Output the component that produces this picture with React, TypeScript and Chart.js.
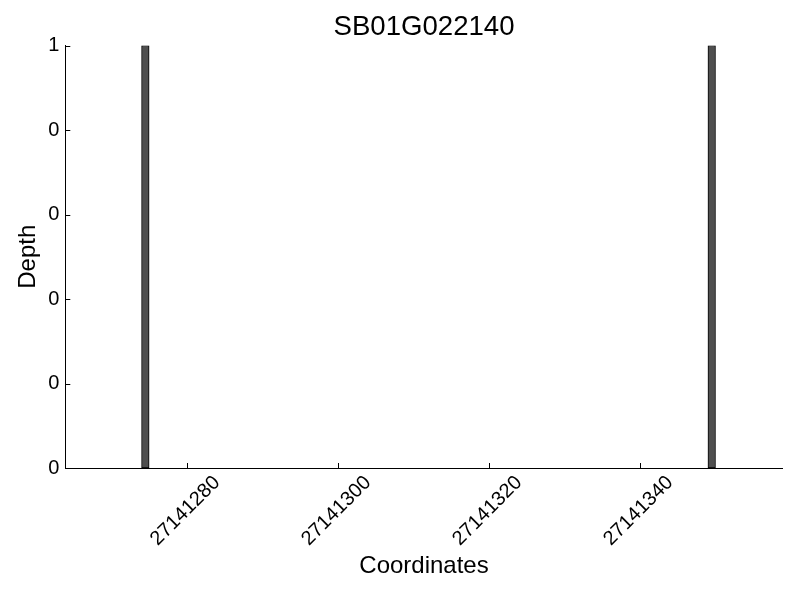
import React, { useEffect, useRef } from 'react';
import { Chart, registerables } from 'chart.js';

Chart.register(...registerables);

const chartTitle = 'SB01G022140';
const xAxisTitle = 'Coordinates';
const yAxisTitle = 'Depth';

// bar centres (each bar covers one coordinate unit)
const coordinates = [27141274.5, 27141349.5];
const depths = [1, 1];

const xMin = 27141263.9;
const xMax = 27141358.9;
const xTickValues = [27141280, 27141300, 27141320, 27141340];
const xTickLabels = ['27141280', '27141300', '27141320', '27141340'];

const yMin = 0;
const yMax = 1;
const yTickValues = [0, 0.2, 0.4, 0.6, 0.8, 1];
const yTickLabels = ['0', '0', '0', '0', '0', '1'];

const FONT = '"Liberation Sans", Arial, Helvetica, sans-serif';

export default function App() {
  const ref = useRef<HTMLCanvasElement>(null);

  useEffect(() => {
    document.body.style.margin = '0';
    if (!ref.current) return;

    const inwardTicks = {
      id: 'inwardTicks',
      afterDraw(chart: any) {
        const { ctx, chartArea } = chart;
        const xs = chart.scales.x;
        const ys = chart.scales.y;
        ctx.save();
        ctx.strokeStyle = '#000';
        ctx.lineWidth = 1;
        ctx.beginPath();
        xs.ticks.forEach((t: any) => {
          const px = Math.round(xs.getPixelForValue(t.value)) + 0.5;
          ctx.moveTo(px, chartArea.bottom);
          ctx.lineTo(px, chartArea.bottom - 5);
        });
        ys.ticks.forEach((t: any) => {
          const py = Math.round(ys.getPixelForValue(t.value)) + 0.5;
          ctx.moveTo(chartArea.left, py);
          ctx.lineTo(chartArea.left + 5, py);
        });
        ctx.stroke();
        ctx.restore();
      },
    };

    const chart = new Chart(ref.current, {
      type: 'bar',
      data: {
        datasets: [
          {
            data: coordinates.map((c, i) => ({ x: c, y: depths[i] })),
            backgroundColor: '#4f4f4f',
            borderColor: '#000',
            borderWidth: 1,
            borderSkipped: false,
            barThickness: 8,
            grouped: false,
          } as any,
        ],
      },
      options: {
        responsive: false,
        animation: false,
        layout: { padding: { left: 0, right: 17.3, top: 0, bottom: 0 } },
        plugins: {
          legend: { display: false },
          tooltip: { enabled: false },
          title: {
            display: true,
            text: chartTitle,
            fullSize: false,
            color: '#000',
            font: { family: FONT, size: 27.6, weight: 'normal' },
            padding: { top: 10.5, bottom: 1.9 },
          } as any,
        },
        scales: {
          x: {
            type: 'linear',
            min: xMin,
            max: xMax,
            offset: false,
            afterBuildTicks: (s: any) => {
              s.ticks = xTickValues.map((v) => ({ value: v }));
            },
            afterFit: (s: any) => {
              s.height = 132;
              s.paddingLeft = 0;
              s.paddingRight = 0;
            },
            grid: { display: false, drawTicks: false },
            border: { display: true, color: '#000', width: 1 },
            ticks: {
              autoSkip: false,
              minRotation: 45,
              maxRotation: 45,
              labelOffset: 30,
              padding: 3,
              color: '#000',
              font: { family: FONT, size: 20 },
              callback: (_v: any, i: number) => xTickLabels[i],
            },
            title: {
              display: true,
              text: xAxisTitle,
              color: '#000',
              font: { family: FONT, size: 24 },
              padding: { top: 0, bottom: 19 },
            },
          },
          y: {
            type: 'linear',
            min: yMin,
            max: yMax,
            afterBuildTicks: (s: any) => {
              s.ticks = yTickValues.map((v) => ({ value: v }));
            },
            afterFit: (s: any) => {
              s.width = 65.3;
              s.paddingTop = 0;
              s.paddingBottom = 0;
            },
            grid: { display: false, drawTicks: false },
            border: { display: true, color: '#000', width: 1 },
            ticks: {
              autoSkip: false,
              padding: 6,
              color: '#000',
              font: { family: FONT, size: 20 },
              callback: (_v: any, i: number) => yTickLabels[i],
            },
            title: {
              display: true,
              text: yAxisTitle,
              color: '#000',
              font: { family: FONT, size: 24 },
              padding: { top: 14, bottom: 0 },
            },
          },
        },
      } as any,
      plugins: [inwardTicks],
    });

    const xs: any = chart.scales.x;
    const unit = xs.getPixelForValue(xMin + 1) - xs.getPixelForValue(xMin);
    (chart.data.datasets[0] as any).barThickness = unit;
    chart.update();

    return () => chart.destroy();
  }, []);

  return (
    <div style={{ width: 800, height: 600 }}>
      <canvas ref={ref} width={800} height={600} />
    </div>
  );
}
